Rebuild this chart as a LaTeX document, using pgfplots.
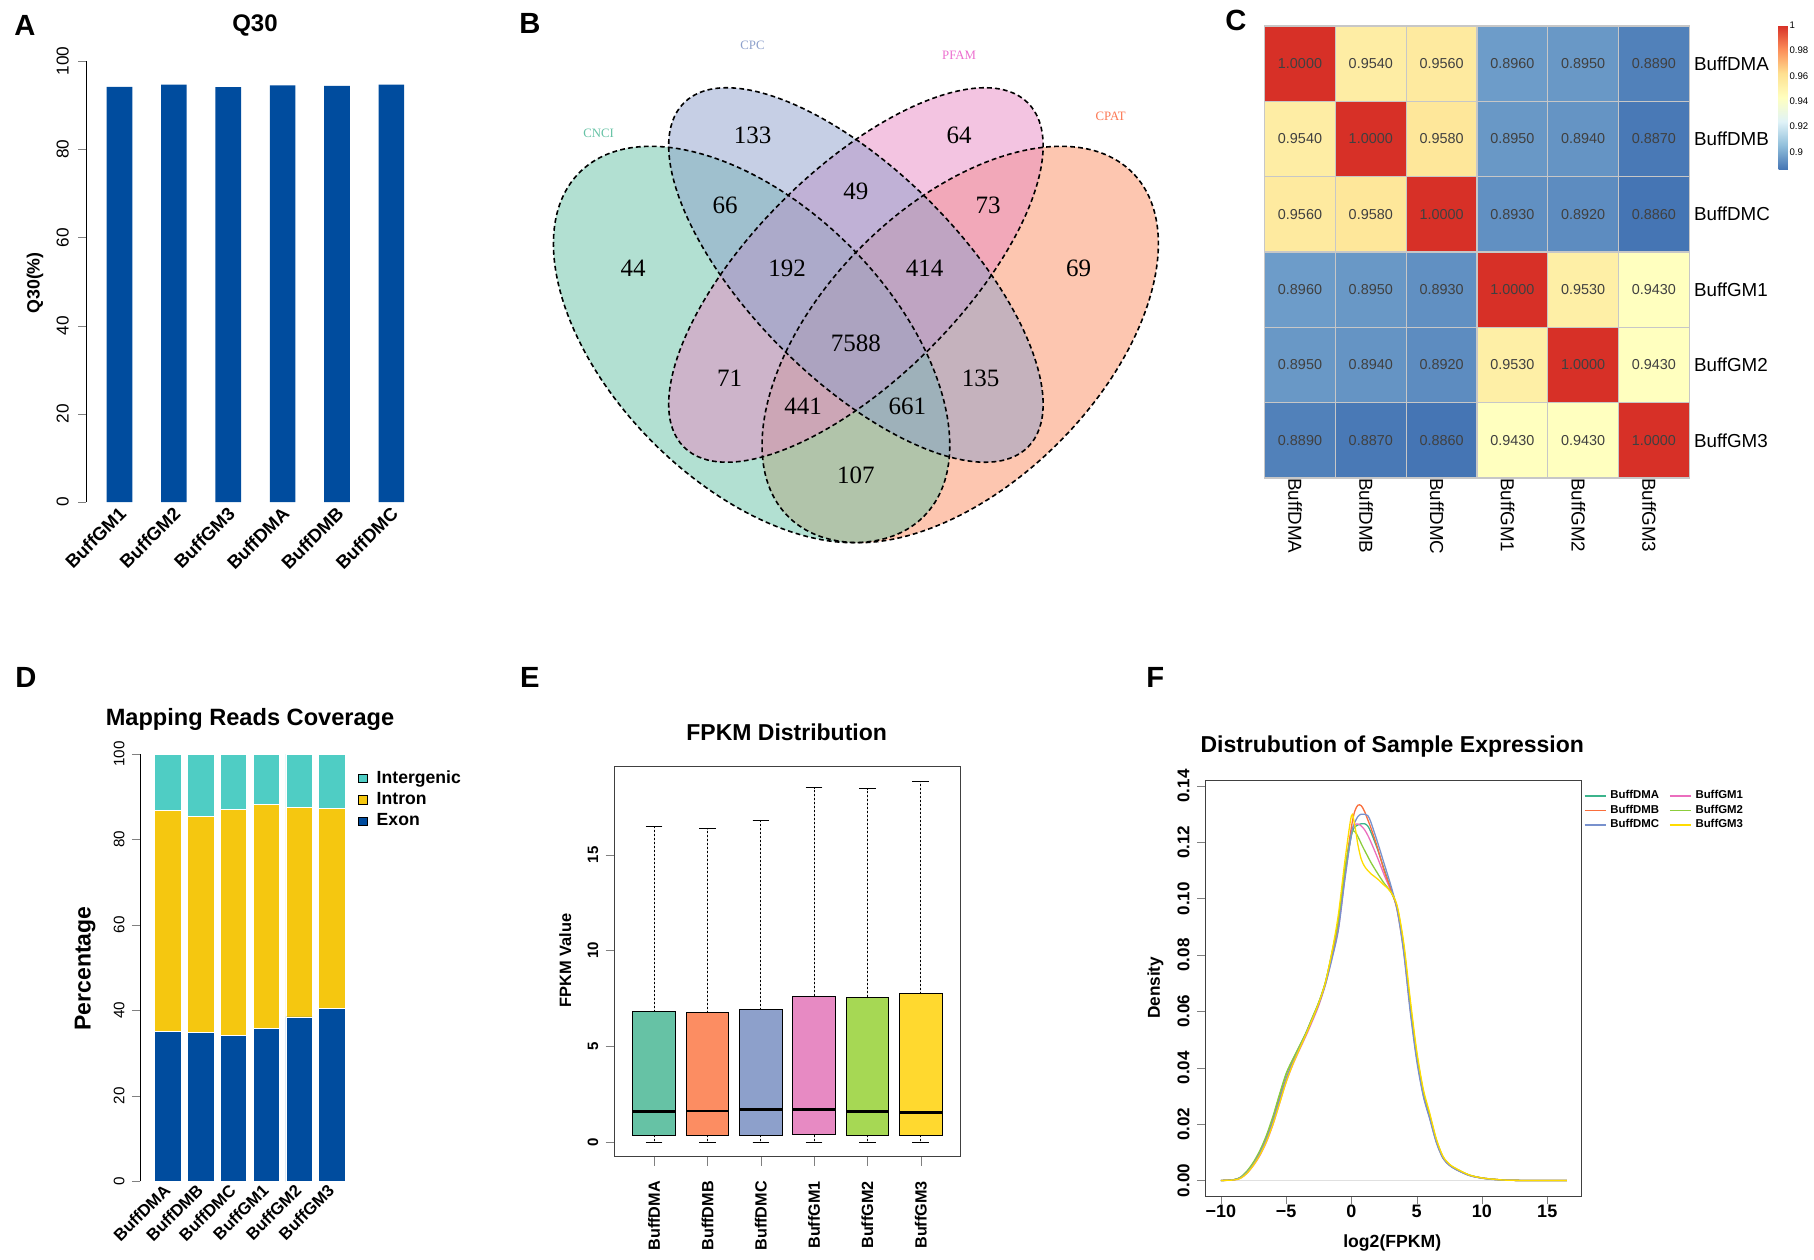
\documentclass[border=0pt]{standalone}
\usepackage{fontspec}
\setmainfont{Liberation Sans}
\newfontfamily\seriffont{Liberation Serif}
\usepackage{pgfplots}
\pgfplotsset{compat=1.18}
\usepgfplotslibrary{statistics}
\newcommand\fs[1]{\fontsize{#1}{#1}\selectfont}
\definecolor{qblue}{RGB}{0,76,158}
\definecolor{intron}{RGB}{245,199,16}
\definecolor{interg}{RGB}{79,205,196}
\definecolor{sA}{RGB}{102,194,165}
\definecolor{sB}{RGB}{252,141,98}
\definecolor{sC}{RGB}{141,160,203}
\definecolor{sD}{RGB}{231,138,195}
\definecolor{sE}{RGB}{166,216,84}
\definecolor{sF}{RGB}{255,217,47}
\definecolor{fA}{RGB}{60,180,140}
\definecolor{fB}{RGB}{250,110,60}
\definecolor{fC}{RGB}{120,145,205}
\definecolor{fD}{RGB}{235,110,190}
\definecolor{fE}{RGB}{140,205,60}
\definecolor{fF}{RGB}{255,220,0}
\pgfplotsset{base/.style={scale only axis, anchor=south west, /pgf/number format/assume math mode=true}}
\begin{document}
\begin{tikzpicture}
\path[use as bounding box] (0pt,0pt) rectangle (907pt,629.5pt);
% panel letters
\node[font=\fs{14.6}\bfseries] at (12.5pt,617pt) {A};
\node[font=\fs{14.6}\bfseries] at (264.9pt,617.9pt) {B};
\node[font=\fs{14.6}\bfseries] at (617.9pt,619.1pt) {C};
\node[font=\fs{14.6}\bfseries] at (13pt,290.9pt) {D};
\node[font=\fs{14.6}\bfseries] at (264.9pt,290.9pt) {E};
\node[font=\fs{14.6}\bfseries] at (577.7pt,290.9pt) {F};

% ---------------- A
\begin{axis}[base, at={(43pt,378.45pt)}, width=167pt, height=220.45pt,
 xmin=-0.616, xmax=5.527, ymin=0, ymax=100,
 axis x line*=bottom, axis y line*=left,
 x axis line style={draw=none}, xtick style={draw=none},
 xtick={0,...,5},
 xticklabels={BuffGM1,BuffGM2,BuffGM3,BuffDMA,BuffDMB,BuffDMC},
 xticklabel style={xshift=-0.8pt, yshift=2.3pt, rotate=45, anchor=north east, font=\fs{9.2}\bfseries, inner sep=0pt},
 ytick={0,20,...,100},
 yticklabel style={rotate=90, anchor=south, font=\fs{8.6}, inner sep=0pt},
 yticklabel shift=4.6pt,
 tick align=outside, major tick length=3.85pt,
 ylabel={Q30(\%)}, ylabel style={at={(axis description cs:-0.1527,0.497)}, anchor=center, font=\fs{8.9}\bfseries},
 title={Q30}, title style={at={(axis description cs:0.506,1.082)}, anchor=center, yshift=-6pt, font=\fs{12}\bfseries},
 ybar, bar width=12.8pt]
\addplot[fill=qblue, draw=none] coordinates {(0,94.2) (1,94.7) (2,94.1) (3,94.5) (4,94.4) (5,94.7)};
\end{axis}

% ---------------- B Venn
\begin{axis}[base, at={(250pt,349.5pt)}, width=360pt, height=280pt,
 xmin=500, xmax=1220, ymin=-560, ymax=0, hide axis, clip=false]
\fill[sB, fill opacity=0.5, shift={(axis cs:960.2,-344.5)}, rotate=45] (0pt,0pt) ellipse [x radius=121.65pt, y radius=69.5pt];
\fill[sA, fill opacity=0.5, shift={(axis cs:751.6,-344.5)}, rotate=-45] (0pt,0pt) ellipse [x radius=121.65pt, y radius=69.5pt];
\fill[sD, fill opacity=0.5, shift={(axis cs:855.9,-275)}, rotate=45] (0pt,0pt) ellipse [x radius=121.65pt, y radius=52.15pt];
\fill[sC, fill opacity=0.5, shift={(axis cs:855.9,-275)}, rotate=-45] (0pt,0pt) ellipse [x radius=121.65pt, y radius=52.15pt];
\draw[black, line width=0.8pt, dash pattern=on 2.4pt off 1.6pt, shift={(axis cs:751.6,-344.5)}, rotate=-45] (0pt,0pt) ellipse [x radius=121.65pt, y radius=69.5pt];
\draw[black, line width=0.8pt, dash pattern=on 2.4pt off 1.6pt, shift={(axis cs:855.9,-275)}, rotate=-45] (0pt,0pt) ellipse [x radius=121.65pt, y radius=52.15pt];
\draw[black, line width=0.8pt, dash pattern=on 2.4pt off 1.6pt, shift={(axis cs:855.9,-275)}, rotate=45] (0pt,0pt) ellipse [x radius=121.65pt, y radius=52.15pt];
\draw[black, line width=0.8pt, dash pattern=on 2.4pt off 1.6pt, shift={(axis cs:960.2,-344.5)}, rotate=45] (0pt,0pt) ellipse [x radius=121.65pt, y radius=69.5pt];
\node[font=\seriffont\fs{6.4}, text=sA] at (axis cs:598.7,-133.2) {CNCI};
\node[font=\seriffont\fs{6.4}, text=sC] at (axis cs:752.5,-45.7) {CPC};
\node[font=\seriffont\fs{6.4}, text=sD!80!magenta] at (axis cs:959.1,-55.4) {PFAM};
\node[font=\seriffont\fs{6.4}, text=sB!85!red] at (axis cs:1110.6,-116.1) {CPAT};
\begin{scope}[every node/.style={font=\seriffont\fs{12.5}}]
\node at (axis cs:752.5,-135.7) {133};
\node at (axis cs:959.1,-135.7) {64};
\node at (axis cs:725.0,-205.4) {66};
\node at (axis cs:855.8,-191.1) {49};
\node at (axis cs:988.1,-205.4) {73};
\node at (axis cs:633.1,-267.9) {44};
\node at (axis cs:787.0,-267.9) {192};
\node at (axis cs:924.7,-267.9) {414};
\node at (axis cs:1078.5,-267.9) {69};
\node at (axis cs:855.8,-342.9) {7588};
\node at (axis cs:729.6,-378.6) {71};
\node at (axis cs:980.7,-378.6) {135};
\node at (axis cs:803.0,-406.1) {441};
\node at (axis cs:907.3,-406.1) {661};
\node at (axis cs:855.8,-475.0) {107};
\end{scope}
\end{axis}

% ---------------- C heatmap
\begin{axis}[base, at={(632.3pt,390.5pt)}, width=212.3pt, height=226.05pt,
 xmin=-0.5, xmax=5.5, ymin=-0.5, ymax=5.5, y dir=reverse, enlargelimits=false,
 xtick={0,...,5}, ytick={0,...,5},
 xticklabels={BuffDMA,BuffDMB,BuffDMC,BuffGM1,BuffGM2,BuffGM3},
 yticklabels={BuffDMA,BuffDMB,BuffDMC,BuffGM1,BuffGM2,BuffGM3},
 yticklabel pos=right,
 xticklabel style={rotate=-90, anchor=west, font=\fs{9.4}, inner sep=0pt, yshift=-2.4pt},
 yticklabel style={anchor=west, font=\fs{9.4}, inner sep=0pt, xshift=2.2pt},
 major tick length=0pt, minor tick length=0pt,
 minor xtick={0.5,1.5,2.5,3.5,4.5}, minor ytick={0.5,1.5,2.5,3.5,4.5},
 xminorgrids, yminorgrids, minor grid style={draw=black!22, line width=0.6pt},
 axis line style={draw=black!22, line width=0.6pt},
 axis on top,
 colormap={rdylbu}{rgb255=(69,117,180) rgb255=(145,191,219) rgb255=(224,243,248) rgb255=(255,255,191) rgb255=(254,224,144) rgb255=(252,141,89) rgb255=(215,48,39)},
 point meta min=0.886, point meta max=1,
 colorbar,
 colorbar style={at={(parent axis.north east)}, anchor=north west, xshift=36.2pt, yshift=0.3pt,
   scale only axis, width=4.65pt, height=72.1pt,
   ytick={0.9,0.92,0.94,0.96,0.98,1}, yticklabels={0.9,0.92,0.94,0.96,0.98,1},
   yticklabel style={font=\fs{4.8}, inner sep=0.6pt},
   major tick length=0pt, axis line style={draw=none}}]
\addplot[matrix plot*, mesh/cols=6, point meta=explicit,
 nodes near coords={\pgfmathprintnumber[fixed,fixed zerofill,precision=4]{\pgfplotspointmeta}},
 every node near coord/.append style={anchor=center, font=\fs{7.2}, text=black!75}]
 table[meta=c] {
x y c
0 0 1.0000
1 0 0.9540
2 0 0.9560
3 0 0.8960
4 0 0.8950
5 0 0.8890
0 1 0.9540
1 1 1.0000
2 1 0.9580
3 1 0.8950
4 1 0.8940
5 1 0.8870
0 2 0.9560
1 2 0.9580
2 2 1.0000
3 2 0.8930
4 2 0.8920
5 2 0.8860
0 3 0.8960
1 3 0.8950
2 3 0.8930
3 3 1.0000
4 3 0.9530
5 3 0.9430
0 4 0.8950
1 4 0.8940
2 4 0.8920
3 4 0.9530
4 4 1.0000
5 4 0.9430
0 5 0.8890
1 5 0.8870
2 5 0.8860
3 5 0.9430
4 5 0.9430
5 5 1.0000
};
\end{axis}

% ---------------- D stacked
\begin{axis}[base, at={(70pt,38.85pt)}, width=106pt, height=213.6pt,
 xmin=-0.854, xmax=5.615, ymin=0, ymax=100,
 axis x line*=bottom, axis y line*=left,
 x axis line style={draw=none}, xtick style={draw=none},
 ybar stacked, bar width=13.25pt,
 xtick={0,...,5},
 xticklabels={BuffDMA,BuffDMB,BuffDMC,BuffGM1,BuffGM2,BuffGM3},
 xticklabel style={xshift=-2.6pt, yshift=3.5pt, rotate=45, anchor=north east, font=\fs{8.4}\bfseries, inner sep=0pt},
 ytick={0,20,...,100},
 yticklabel style={rotate=90, anchor=south, font=\fs{7.6}, inner sep=0pt},
 yticklabel shift=3.5pt,
 tick align=outside, major tick length=4.1pt,
 ylabel={Percentage}, ylabel style={at={(axis description cs:-0.259,0.498)}, anchor=center, font=\fs{11.5}\bfseries},
 title={Mapping Reads Coverage}, title style={at={(axis description cs:0.519,1.08)}, anchor=center, yshift=-6pt, font=\fs{11.8}\bfseries},
 legend style={at={(1.028,0.972)}, anchor=north west, draw=none, fill=none, font=\fs{8.8}\bfseries, inner sep=0pt, row sep=-0.9pt, legend cell align=left, /tikz/every odd column/.append style={column sep=2.5pt}},
 reverse legend,
 legend image code/.code={\draw[#1, draw=black, line width=0.3pt] (0pt,-2.2pt) rectangle (4.4pt,2.2pt);}]
\addplot[fill=qblue, draw=white, line width=0.3pt] coordinates {(0,35.0) (1,34.8) (2,34.2) (3,35.7) (4,38.5) (5,40.5)};
\addplot[fill=intron, draw=white, line width=0.3pt] coordinates {(0,51.9) (1,50.7) (2,52.9) (3,52.5) (4,49.0) (5,46.8)};
\addplot[fill=interg, draw=white, line width=0.3pt] coordinates {(0,13.1) (1,14.5) (2,12.9) (3,11.8) (4,12.5) (5,12.7)};
\legend{Exon,Intron,Intergenic}
\end{axis}

% ---------------- E boxplot
\begin{axis}[base, at={(307.35pt,51.1pt)}, width=173pt, height=195.15pt,
 xmin=0.259, xmax=6.75, ymin=-0.773, ymax=19.61,
 xtick={1,...,6},
 xticklabels={BuffDMA,BuffDMB,BuffDMC,BuffGM1,BuffGM2,BuffGM3},
 xticklabel style={rotate=90, anchor=east, font=\fs{8.1}\bfseries, inner sep=0pt},
 xticklabel shift=7.5pt,
 ytick={0,5,10,15},
 yticklabel style={rotate=90, anchor=south, font=\fs{7.5}\bfseries, inner sep=0pt},
 yticklabel shift=3.5pt,
 tick align=outside, tick pos=left, major tick length=4.5pt,
 axis line style={draw=black!75, line width=0.5pt},
 ylabel={FPKM Value}, ylabel style={at={(axis description cs:-0.143,0.5024)}, anchor=center, font=\fs{8.2}\bfseries},
 title={FPKM Distribution}, title style={at={(axis description cs:0.497,1.0866)}, anchor=center, yshift=-6pt, font=\fs{11.5}\bfseries},
 boxplot/draw direction=y,
 boxplot/every median/.style={line width=1.4pt},
 boxplot/draw/whisker/.code 2 args={\draw[black, dash pattern=on 1pt off 1pt, line width=0.5pt] (boxplot cs:#1) -- (boxplot cs:#2); \draw[black, line width=0.5pt] (boxplot whisker cs:#2,0) -- (boxplot whisker cs:#2,1);}]
\addplot[fill=sA, draw=black, line width=0.5pt, boxplot prepared={draw position=1, lower whisker=0, lower quartile=0.34, median=1.60, upper quartile=6.79, upper whisker=16.50, box extend=0.8, whisker extend=0.31}] coordinates {};
\addplot[fill=sB, draw=black, line width=0.5pt, boxplot prepared={draw position=2, lower whisker=0, lower quartile=0.34, median=1.62, upper quartile=6.75, upper whisker=16.36, box extend=0.8, whisker extend=0.31}] coordinates {};
\addplot[fill=sC, draw=black, line width=0.5pt, boxplot prepared={draw position=3, lower whisker=0, lower quartile=0.34, median=1.68, upper quartile=6.91, upper whisker=16.80, box extend=0.8, whisker extend=0.31}] coordinates {};
\addplot[fill=sD, draw=black, line width=0.5pt, boxplot prepared={draw position=4, lower whisker=0, lower quartile=0.38, median=1.70, upper quartile=7.60, upper whisker=18.49, box extend=0.8, whisker extend=0.31}] coordinates {};
\addplot[fill=sE, draw=black, line width=0.5pt, boxplot prepared={draw position=5, lower whisker=0, lower quartile=0.34, median=1.58, upper quartile=7.56, upper whisker=18.45, box extend=0.8, whisker extend=0.31}] coordinates {};
\addplot[fill=sF, draw=black, line width=0.5pt, boxplot prepared={draw position=6, lower whisker=0, lower quartile=0.34, median=1.56, upper quartile=7.74, upper whisker=18.83, box extend=0.8, whisker extend=0.31}] coordinates {};
\end{axis}

% ---------------- F density
\begin{axis}[base, at={(602.5pt,31.3pt)}, width=188.15pt, height=207.75pt,
 xmin=-11.22, xmax=17.61, ymin=-0.00564, ymax=0.1418,
 xtick={-10,-5,0,5,10,15}, xticklabels={−10,−5,0,5,10,15},
 ytick={0,0.02,0.04,0.06,0.08,0.10,0.12,0.14},
 yticklabels={0.00,0.02,0.04,0.06,0.08,0.10,0.12,0.14},
 xticklabel style={font=\fs{9}\bfseries, inner sep=0pt},
 yticklabel style={rotate=90, anchor=south, font=\fs{8.5}\bfseries, inner sep=0pt},
 yticklabel shift=3.5pt,
 tick align=outside, tick pos=left, major tick length=4pt,
 axis line style={draw=black!75, line width=0.5pt},
 xlabel={log2(FPKM)}, xlabel style={at={(axis description cs:0.4975,-0.112)}, anchor=center, font=\fs{8.8}\bfseries},
 ylabel={Density}, ylabel style={at={(axis description cs:-0.132,0.502)}, anchor=center, font=\fs{8.6}\bfseries},
 title={Distrubution of Sample Expression}, title style={at={(axis description cs:0.4975,1.0833)}, anchor=center, yshift=-6pt, font=\fs{11.5}\bfseries},
 legend columns=2,
 legend style={at={(1.006,0.988)}, anchor=north west, draw=none, fill=none, font=\fs{5.7}\bfseries, inner sep=0pt, row sep=-2.4pt, legend cell align=left, /tikz/every even column/.append style={column sep=3pt}},
 legend image code/.code={\draw[#1, line width=0.7pt] (0pt,0pt) -- (10.5pt,0pt);},
 every axis plot/.append style={smooth, line width=0.65pt}]
\addplot[black!12, line width=0.5pt, forget plot, sharp plot] coordinates {(-10,0) (16.5,0)};
\addplot[fA] coordinates {(-10,0) (-9,0.0003) (-8.5,0.0011) (-8,0.0032) (-7.5,0.0063) (-7,0.0105) (-6.5,0.0158) (-6,0.0225) (-5.5,0.0303) (-5,0.0378) (-4.5,0.0428) (-4,0.0474) (-3.5,0.0522) (-3,0.0577) (-2.5,0.0632) (-2,0.0702) (-1.5,0.0805) (-1,0.0925) (-0.5,0.1095) (0,0.1225) (0.25,0.1255) (0.5,0.1262) (0.75,0.1266) (1,0.1266) (1.25,0.1258) (1.5,0.1235) (2,0.1175) (2.5,0.1105) (3,0.1038) (3.5,0.0965) (4,0.0825) (4.5,0.0620) (5,0.0440) (5.5,0.0310) (6,0.0225) (6.5,0.0140) (7,0.0082) (7.5,0.0055) (8,0.0040) (9,0.0019) (10,0.0009) (11,0.0004) (12,0.0001) (14,0) (16.5,0)};
\addplot[fD] coordinates {(-10,0) (-9,0.0002) (-8.5,0.0008) (-8,0.0026) (-7.5,0.0054) (-7,0.0090) (-6.5,0.0138) (-6,0.0200) (-5.5,0.0275) (-5,0.0350) (-4.5,0.0410) (-4,0.0462) (-3.5,0.0512) (-3,0.0565) (-2.5,0.0622) (-2,0.0695) (-1.5,0.0790) (-1,0.0895) (-0.5,0.1075) (0,0.1235) (0.25,0.1262) (0.5,0.1265) (0.75,0.1258) (1,0.1245) (1.25,0.1225) (1.5,0.1200) (2,0.1145) (2.5,0.1085) (3,0.1030) (3.5,0.0968) (4,0.0830) (4.5,0.0625) (5,0.0445) (5.5,0.0315) (6,0.0230) (6.5,0.0143) (7,0.0084) (7.5,0.0056) (8,0.0041) (9,0.0019) (10,0.0009) (11,0.0004) (12,0.0001) (14,0) (16.5,0)};
\addplot[fB] coordinates {(-10,0) (-9,0.0003) (-8.5,0.0010) (-8,0.0030) (-7.5,0.0060) (-7,0.0100) (-6.5,0.0150) (-6,0.0215) (-5.5,0.0290) (-5,0.0362) (-4.5,0.0420) (-4,0.0470) (-3.5,0.0520) (-3,0.0575) (-2.5,0.0630) (-2,0.0700) (-1.5,0.0800) (-1,0.0920) (-0.5,0.1100) (0,0.1255) (0.25,0.1310) (0.5,0.1332) (0.75,0.1330) (1,0.1310) (1.25,0.1280) (1.5,0.1250) (2,0.1180) (2.5,0.1100) (3,0.1035) (3.5,0.0960) (4,0.0815) (4.5,0.0610) (5,0.0435) (5.5,0.0305) (6,0.0222) (6.5,0.0138) (7,0.0081) (7.5,0.0055) (8,0.0040) (9,0.0019) (10,0.0009) (11,0.0004) (12,0.0001) (14,0) (16.5,0)};
\addplot[fE] coordinates {(-10,0) (-9,0.0003) (-8.5,0.0012) (-8,0.0034) (-7.5,0.0066) (-7,0.0108) (-6.5,0.0162) (-6,0.0230) (-5.5,0.0308) (-5,0.0380) (-4.5,0.0430) (-4,0.0476) (-3.5,0.0523) (-3,0.0578) (-2.5,0.0633) (-2,0.0703) (-1.5,0.0807) (-1,0.0925) (-0.5,0.1105) (0,0.1230) (0.25,0.1238) (0.5,0.1220) (0.75,0.1195) (1,0.1172) (1.25,0.1150) (1.5,0.1128) (2,0.1090) (2.5,0.1055) (3,0.1025) (3.5,0.0970) (4,0.0835) (4.5,0.0630) (5,0.0450) (5.5,0.0318) (6,0.0232) (6.5,0.0145) (7,0.0085) (7.5,0.0057) (8,0.0042) (9,0.0020) (10,0.0009) (11,0.0004) (12,0.0001) (14,0) (16.5,0)};
\addplot[fC] coordinates {(-10,0) (-9,0.0003) (-8.5,0.0010) (-8,0.0029) (-7.5,0.0058) (-7,0.0098) (-6.5,0.0148) (-6,0.0212) (-5.5,0.0287) (-5,0.0360) (-4.5,0.0418) (-4,0.0468) (-3.5,0.0518) (-3,0.0572) (-2.5,0.0627) (-2,0.0695) (-1.5,0.0785) (-1,0.0890) (-0.5,0.1070) (0,0.1230) (0.25,0.1270) (0.5,0.1292) (0.75,0.1300) (1,0.1300) (1.25,0.1295) (1.5,0.1270) (2,0.1200) (2.5,0.1125) (3,0.1050) (3.5,0.0960) (4,0.0810) (4.5,0.0600) (5,0.0425) (5.5,0.0300) (6,0.0218) (6.5,0.0135) (7,0.0080) (7.5,0.0054) (8,0.0039) (9,0.0018) (10,0.0008) (11,0.0003) (12,0.0001) (14,0) (16.5,0)};
\addplot[fF] coordinates {(-10,0) (-9,0.0002) (-8.5,0.0008) (-8,0.0026) (-7.5,0.0055) (-7,0.0092) (-6.5,0.0140) (-6,0.0202) (-5.5,0.0275) (-5,0.0350) (-4.5,0.0412) (-4,0.0465) (-3.5,0.0517) (-3,0.0572) (-2.5,0.0630) (-2,0.0702) (-1.5,0.0810) (-1,0.0945) (-0.5,0.1135) (0,0.1295) (0.25,0.1260) (0.5,0.1190) (0.75,0.1140) (1,0.1115) (1.25,0.1100) (1.5,0.1088) (2,0.1070) (2.5,0.1048) (3,0.1025) (3.5,0.0975) (4,0.0845) (4.5,0.0645) (5,0.0460) (5.5,0.0325) (6,0.0238) (6.5,0.0148) (7,0.0087) (7.5,0.0058) (8,0.0043) (9,0.0020) (10,0.0009) (11,0.0004) (12,0.0001) (14,0) (16.5,0)};
\legend{BuffDMA,BuffGM1,BuffDMB,BuffGM2,BuffDMC,BuffGM3}
\end{axis}
\end{tikzpicture}
\end{document}
